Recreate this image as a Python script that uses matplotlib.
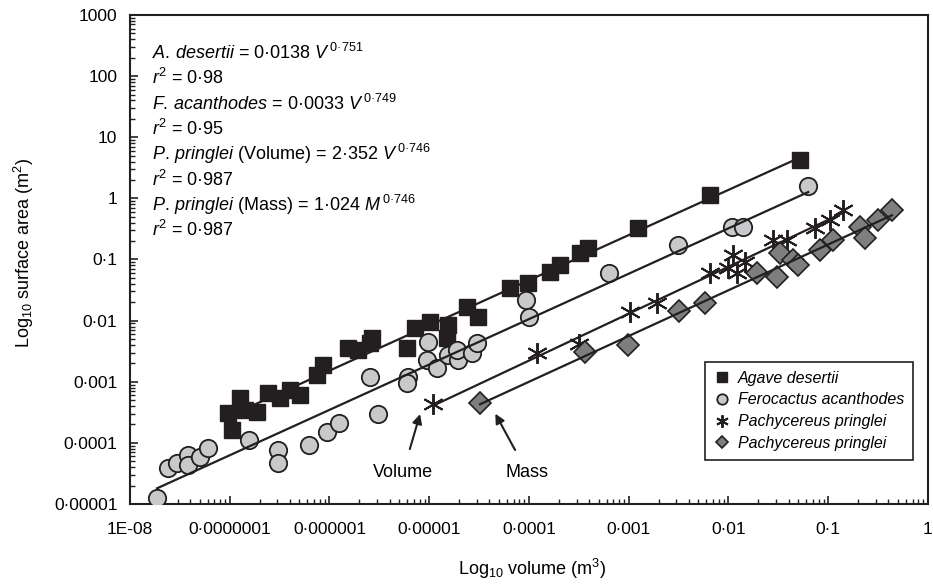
import numpy as np
import matplotlib.pyplot as plt

plt.rcParams['font.family'] = ['Liberation Sans', 'DejaVu Sans']
plt.rcParams['mathtext.fontset'] = 'custom'
plt.rcParams['mathtext.rm'] = 'Liberation Sans'
plt.rcParams['mathtext.it'] = 'Liberation Sans:italic'
plt.rcParams['mathtext.bf'] = 'Liberation Sans:bold'

# Agave desertii (volume m3, surface area m2)
agave_v = [9.6e-8, 1.05e-7, 1.27e-7, 1.42e-7, 1.87e-7, 2.42e-7, 3.19e-7, 4.02e-7,
           5.06e-7, 7.5e-7, 8.6e-7, 1.53e-6, 1.93e-6, 2.55e-6, 2.67e-6, 5.98e-6,
           7.2e-6, 1.02e-5, 1.54e-5, 1.51e-5, 2.39e-5, 3.08e-5, 6.45e-5, 9.8e-5,
           1.62e-4, 2.05e-4, 3.25e-4, 3.9e-4, 1.24e-3, 6.5e-3, 0.052]
agave_a = [3.1e-4, 1.6e-4, 5.4e-4, 3.45e-4, 3.2e-4, 6.5e-4, 5.4e-4, 7.3e-4,
           6.1e-4, 1.29e-3, 1.88e-3, 3.56e-3, 3.3e-3, 4.3e-3, 5.2e-3, 3.56e-3,
           7.6e-3, 9.5e-3, 8.5e-3, 5.2e-3, 1.67e-2, 1.15e-2, 3.42e-2, 4.1e-2,
           6.2e-2, 8.1e-2, 0.128, 0.154, 0.327, 1.14, 4.25]

# Ferocactus acanthodes
fero_v = [1.87e-8, 2.4e-8, 2.96e-8, 3.81e-8, 3.81e-8, 5.03e-8, 6.05e-8, 1.56e-7,
          3.05e-7, 3.05e-7, 6.2e-7, 9.4e-7, 1.24e-6, 2.55e-6, 3.06e-6, 6.1e-6,
          6.0e-6, 9.7e-6, 9.5e-6, 1.2e-5, 1.54e-5, 1.94e-5, 1.9e-5, 2.68e-5,
          3.01e-5, 9.3e-5, 1.0e-4, 6.3e-4, 3.12e-3, 1.08e-2, 1.4e-2, 6.3e-2]
fero_a = [1.25e-5, 3.9e-5, 4.7e-5, 6.3e-5, 4.35e-5, 5.9e-5, 8.2e-5, 1.11e-4,
          7.6e-5, 4.7e-5, 9.2e-5, 1.51e-4, 2.1e-4, 1.2e-3, 2.96e-4, 1.2e-3,
          9.5e-4, 4.5e-3, 2.27e-3, 1.68e-3, 2.74e-3, 2.27e-3, 3.3e-3, 2.95e-3,
          4.3e-3, 2.17e-2, 1.15e-2, 6.0e-2, 0.173, 0.34, 0.34, 1.59]

# Pachycereus pringlei, plotted against volume
pv_v = [1.09e-5, 1.2e-4, 3.17e-4, 1.03e-3, 1.92e-3, 6.5e-3, 9.9e-3, 1.11e-2,
        1.22e-2, 1.46e-2, 2.79e-2, 3.86e-2, 7.4e-2, 0.104, 0.141]
pv_a = [4.3e-4, 2.95e-3, 4.15e-3, 1.38e-2, 1.94e-2, 6.0e-2, 7.3e-2, 0.119,
        0.060, 0.091, 0.208, 0.208, 0.327, 0.443, 0.645]

# Pachycereus pringlei, plotted against mass
pm_m = [3.23e-5, 3.64e-4, 9.8e-4, 3.19e-3, 5.8e-3, 1.93e-2, 3.06e-2, 3.28e-2,
        4.43e-2, 4.98e-2, 8.3e-2, 0.112, 0.208, 0.233, 0.315, 0.435]
pm_a = [4.5e-4, 3.07e-3, 4.0e-3, 1.44e-2, 1.94e-2, 6.0e-2, 5.2e-2, 0.128,
        0.098, 0.081, 0.143, 0.208, 0.34, 0.225, 0.443, 0.645]

x_ticks = [1e-8, 1e-7, 1e-6, 1e-5, 1e-4, 1e-3, 1e-2, 1e-1, 1]
x_labels = ['1E-08', '0·0000001', '0·000001', '0·00001', '0·0001',
            '0·001', '0·01', '0·1', '1']
y_ticks = [1e-5, 1e-4, 1e-3, 1e-2, 1e-1, 1, 10, 100, 1000]
y_labels = ['0·00001', '0·0001', '0·001', '0·01', '0·1', '1', '10', '100', '1000']

equations = [
    r'$\mathit{A.\,desertii}$ = 0·0138 $\mathit{V}^{\,0{·}751}$',
    r'$\mathit{r}^{2}$ = 0·98',
    r'$\mathit{F.\,acanthodes}$ = 0·0033 $\mathit{V}^{\,0{·}749}$',
    r'$\mathit{r}^{2}$ = 0·95',
    r'$\mathit{P.\,pringlei}$ (Volume) = 2·352 $\mathit{V}^{\,0{·}746}$',
    r'$\mathit{r}^{2}$ = 0·987',
    r'$\mathit{P.\,pringlei}$ (Mass) = 1·024 $\mathit{M}^{\,0{·}746}$',
    r'$\mathit{r}^{2}$ = 0·987',
]


def fit_line(x, y):
    lx, ly = np.log10(x), np.log10(y)
    b, a = np.polyfit(lx, ly, 1)
    xs = np.array([lx.min(), lx.max()])
    return 10 ** xs, 10 ** (a + b * xs)


fig = plt.figure(figsize=(9.33, 5.85), dpi=100)
ax = fig.add_axes([0.1393, 0.1385, 0.8553, 0.8359])
ax.set_xscale('log')
ax.set_yscale('log')

ax.plot(agave_v, agave_a, 's', ms=11, mfc='#231f20', mec='#231f20', mew=1,
        ls='none', label='Agave desertii', zorder=3)
ax.plot(fero_v, fero_a, 'o', ms=12.5, mfc='#c8c9cb', mec='#231f20', mew=1.3,
        ls='none', label='Ferocactus acanthodes', zorder=3)
ax.plot(pv_v, pv_a, marker=(6, 2, 0), ms=15, mec='#231f20', mew=1.4,
        ls='none', label='Pachycereus pringlei', zorder=3)
ax.plot(pm_m, pm_a, 'D', ms=11, mfc='#7d7e80', mec='#231f20', mew=1.2,
        ls='none', label='Pachycereus pringlei', zorder=3)

for xs, ys in [(agave_v, agave_a), (fero_v, fero_a), (pv_v, pv_a), (pm_m, pm_a)]:
    lx, ly = fit_line(xs, ys)
    ax.plot(lx, ly, color='#231f20', lw=1.6, zorder=4)

ax.set_xlim(1e-8, 1)
ax.set_ylim(1e-5, 1000)
ax.set_xticks(x_ticks, x_labels)
ax.set_yticks(y_ticks, y_labels)
ax.tick_params(which='both', direction='in', labelsize=12.5, color='#231f20')
ax.tick_params(which='major', length=6, width=1.2)
ax.tick_params(which='minor', length=3.5, width=1)
ax.tick_params(axis='x', pad=13)
ax.tick_params(axis='y', pad=9)
for s in ax.spines.values():
    s.set_linewidth(1.5)
    s.set_color('#231f20')

ax.set_xlabel(r'Log$_{10}$ volume (m$^{3}$)', fontsize=13)
ax.set_ylabel(r'Log$_{10}$ surface area (m$^{2}$)', fontsize=13)
ax.xaxis.set_label_coords(0.504, -0.108)
ax.yaxis.set_label_coords(-0.118, 0.513)

for i, line in enumerate(equations):
    ax.text(0.0276, 0.922 - i * 0.0517, line, transform=ax.transAxes,
            fontsize=13, ha='left', va='center')

ax.annotate('Volume', xy=(8.1e-6, 2.96e-4), xytext=(5.46e-6, 3.3e-5),
            fontsize=13, ha='center', va='center',
            arrowprops=dict(arrowstyle='-|>', color='#231f20', lw=1.5,
                            mutation_scale=14, shrinkA=9, shrinkB=0))
ax.annotate('Mass', xy=(4.6e-5, 3.0e-4), xytext=(9.6e-5, 3.3e-5),
            fontsize=13, ha='center', va='center',
            arrowprops=dict(arrowstyle='-|>', color='#231f20', lw=1.5,
                            mutation_scale=14, shrinkA=9, shrinkB=0))

leg = ax.legend(loc='upper left', bbox_to_anchor=(0.7206, 0.2904), borderaxespad=0,
                prop={'style': 'italic', 'size': 11.5},
                markerscale=0.6, frameon=True, fancybox=False, framealpha=1,
                edgecolor='#231f20', handlelength=1.0, handletextpad=0.5,
                labelspacing=0.42, borderpad=0.55)
leg.get_frame().set_linewidth(1.2)

fig.savefig('out.png', dpi=100)
